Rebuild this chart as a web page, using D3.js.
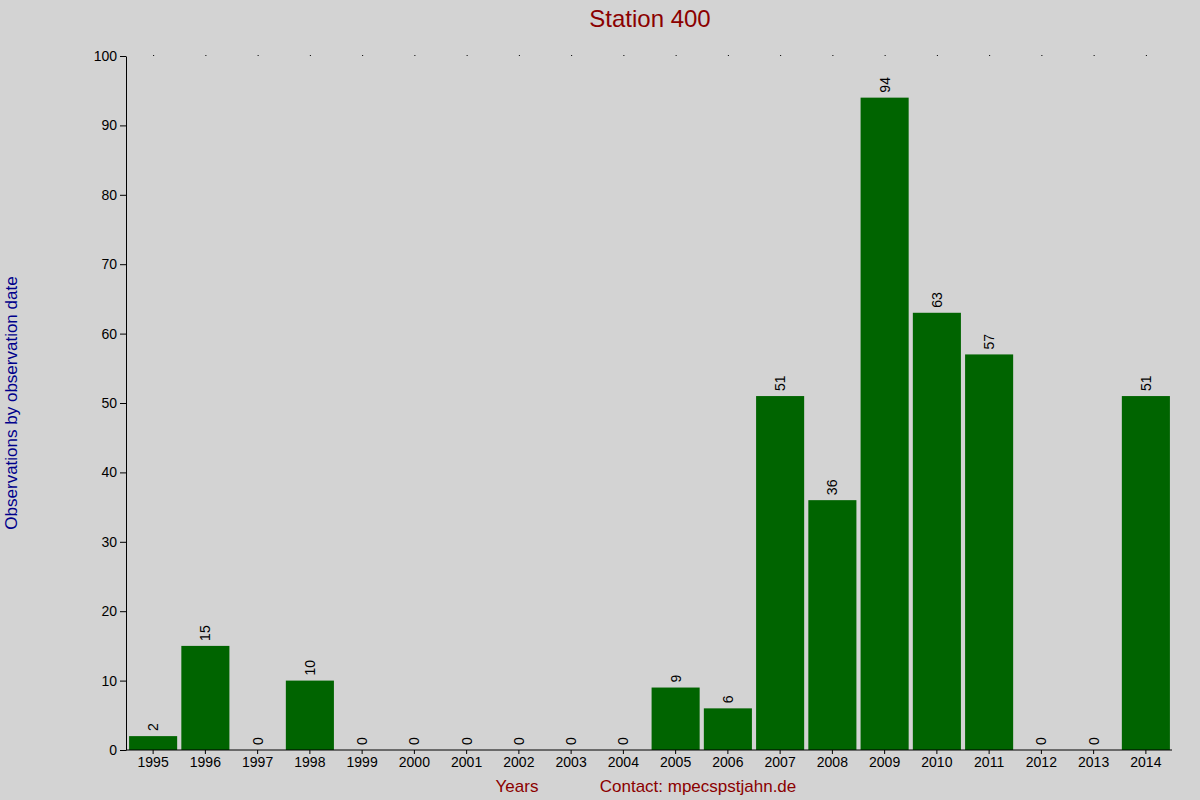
<!DOCTYPE html>
<html><head><meta charset="utf-8">
<script src="https://cdn.jsdelivr.net/npm/d3@7"></script>
<style>body{margin:0;background:#d3d3d3}svg{font-family:"Liberation Sans",Arial,sans-serif}</style>
</head><body><svg id="c" width="1200" height="800"></svg>
<script>
const years=["1995","1996","1997","1998","1999","2000","2001","2002","2003","2004","2005","2006","2007","2008","2009","2010","2011","2012","2013","2014"];
const counts=[2,15,0,10,0,0,0,0,0,0,9,6,51,36,94,63,57,0,0,51];
const yTicks=[0,10,20,30,40,50,60,70,80,90,100];
const svg=d3.select("#c");
svg.append("rect").attr("width",1200).attr("height",800).attr("fill","#d3d3d3");
const L=127,R=1172,T=56,B=750;
const x=d3.scaleBand().domain(years).range([L,R]).paddingInner(0.08).paddingOuter(0.04);
const y=d3.scaleLinear().domain([0,100]).range([B,T]);
svg.append("text").attr("x",650).attr("y",27).attr("text-anchor","middle").attr("font-size",24).attr("fill","#8b0000").text("Station 400");
svg.selectAll(".bar").data(counts).join("rect").attr("x",(d,i)=>x(years[i])).attr("width",x.bandwidth())
 .attr("y",d=>y(d)).attr("height",d=>B-y(d)).attr("fill","#006400");
svg.selectAll(".lab").data(counts).join("text").attr("font-size",14).attr("fill","#000")
 .attr("transform",(d,i)=>`translate(${x(years[i])+x.bandwidth()/2+5},${y(d)-5}) rotate(-90)`).text(d=>d);
svg.selectAll(".dot").data(years).join("rect").attr("x",d=>x(d)+x.bandwidth()/2).attr("y",T-1).attr("width",1).attr("height",1).attr("fill","#000");
const ya=svg.append("g").attr("transform",`translate(${L-1},0)`).call(d3.axisLeft(y).tickValues(yTicks).tickSize(6).tickSizeOuter(0));
const xa=svg.append("g").attr("transform",`translate(0,${B})`).call(d3.axisBottom(x).tickSize(4).tickSizeOuter(0));
[ya,xa].forEach(a=>{a.selectAll("text").attr("font-size",14).attr("fill","#000").attr("font-family","Liberation Sans, Arial");a.selectAll("line,path").attr("stroke","#000");});
xa.select(".domain").attr("d",`M${L-1},0H${R}`);
svg.append("text").attr("transform","translate(17,403) rotate(-90)").attr("text-anchor","middle").attr("font-size",17).attr("fill","#00008b").text("Observations by observation date");
svg.append("text").attr("x",517).attr("y",792).attr("text-anchor","middle").attr("font-size",17).attr("fill","#8b0000").text("Years");
svg.append("text").attr("x",698).attr("y",792).attr("text-anchor","middle").attr("font-size",17).attr("fill","#8b0000").text("Contact: mpecspstjahn.de");
</script></body></html>
